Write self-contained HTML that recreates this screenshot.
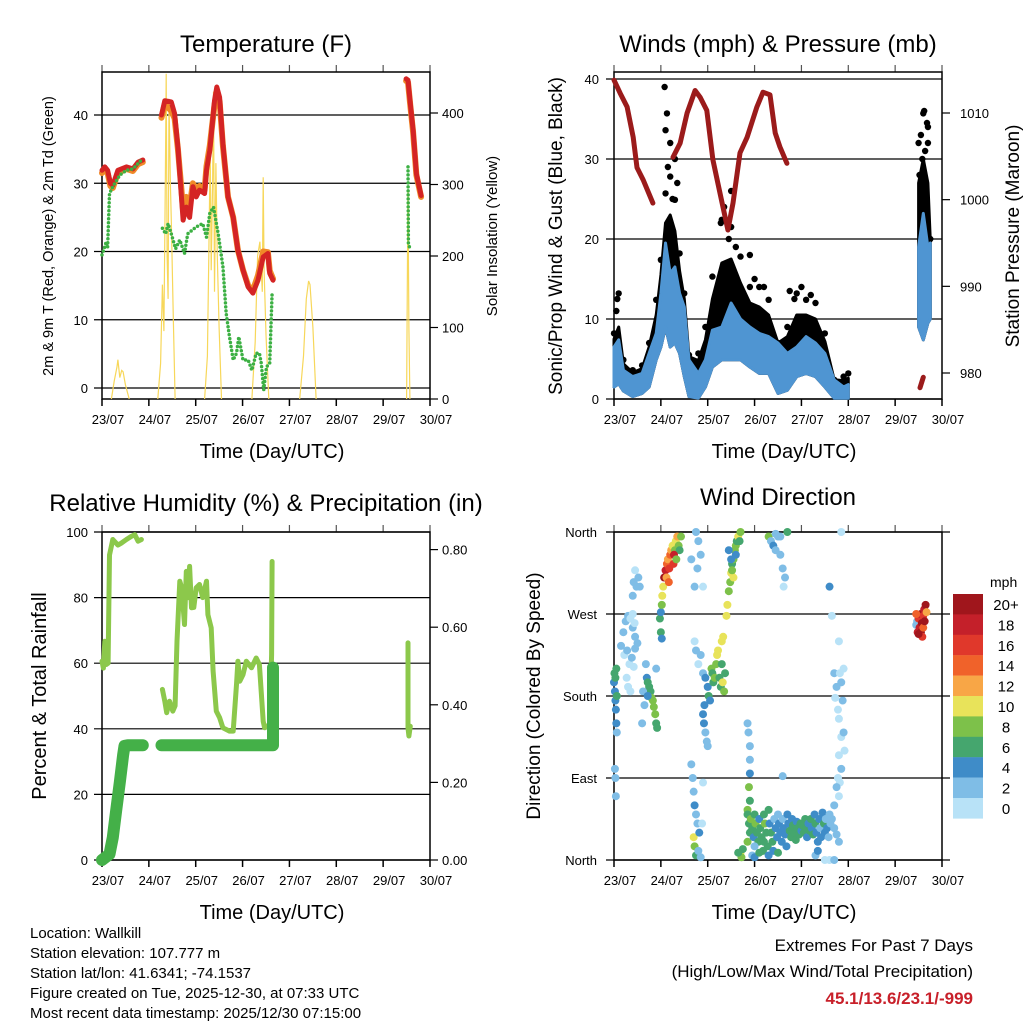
<!DOCTYPE html>
<html><head><meta charset="utf-8"><style>
html,body{margin:0;padding:0;background:#fff;}
svg{display:block;font-family:"Liberation Sans",sans-serif;}
</style></head><body>
<svg id="root" width="1024" height="1024" viewBox="0 0 1024 1024" xmlns="http://www.w3.org/2000/svg">
<rect x="0" y="0" width="1024" height="1024" fill="#fff"/>
<g id="g1"></g>
<g id="g2"></g>
<g id="g3"></g>
<g id="g4"></g>
<g font-size="15" fill="#000">
<text x="30" y="938">Location: Wallkill</text>
<text x="30" y="958">Station elevation: 107.777 m</text>
<text x="30" y="978">Station lat/lon: 41.6341; -74.1537</text>
<text x="30" y="998">Figure created on Tue, 2025-12-30, at 07:33 UTC</text>
<text x="30" y="1018">Most recent data timestamp: 2025/12/30 07:15:00</text>
</g>
<g text-anchor="end">
<text x="973" y="951" font-size="17">Extremes For Past 7 Days</text>
<text x="973" y="977" font-size="17">(High/Low/Max Wind/Total Precipitation)</text>
<text x="973" y="1004" font-size="17" font-weight="bold" fill="#c8202a">45.1/13.6/23.1/-999</text>
</g>
</svg>
<script>
// ---------- data ----------
const dayLabels = ["23/07","24/07","25/07","26/07","27/07","28/07","29/07","30/07"];
const tempTicks = [0,10,20,30,40];
const solarTicks = [0,100,200,300,400];
const windTicks = [0,10,20,30,40];
const pressTicks = [980,990,1000,1010];
const rhTicks = [0,20,40,60,80,100];
const precipTicks = ["0.00","0.20","0.40","0.60","0.80"];
const dirTicks = ["North","East","South","West","North"];
const speedBins = ["0","2","4","6","8","10","12","14","16","18","20+"];

const tempRed = [
 [[0,31.9],[0.06,32.4],[0.12,31.9],[0.18,30],[0.23,29.7],[0.34,31.9],[0.52,32.4],[0.66,32.1],[0.77,33.1],[0.87,33.4]],
 [[1.27,40],[1.34,42.1],[1.48,41.9],[1.55,40.2],[1.62,35.3],[1.69,28.5],[1.73,24.6],[1.8,26.5],[1.87,25],[1.94,29.5],[2.01,28],[2.08,29],[2.19,28.5],[2.23,31.9],[2.3,34.8],[2.4,42.1],[2.45,44.1],[2.51,42.6],[2.58,35.8],[2.69,28],[2.8,25],[2.9,20.2],[3.01,17.3],[3.12,14.8],[3.22,13.9],[3.33,15.8],[3.44,19.2],[3.54,19.7],[3.58,16.8],[3.65,15.8]],
 [[6.49,45.3],[6.53,45.1],[6.58,41.7],[6.64,37.8],[6.71,31.4],[6.81,28.2]]
];
const tempOrange = [
 [[0,31.5],[0.06,32],[0.12,31.5],[0.18,29.6],[0.23,29.3],[0.34,31.5],[0.52,32.1],[0.66,31.8],[0.77,32.8],[0.87,33.1]],
 [[1.27,39.6],[1.34,41.6],[1.48,40.6],[1.55,39.5],[1.62,35],[1.69,29.5],[1.73,26],[1.8,28],[1.87,26.5],[1.94,30],[2.01,29],[2.08,29.6],[2.19,29],[2.23,32.5],[2.3,35.5],[2.4,41.5],[2.45,43.2],[2.51,42],[2.58,35.5],[2.69,28],[2.8,25],[2.9,20.2],[3.01,17.3],[3.12,15],[3.22,14.3],[3.33,16.5],[3.44,20],[3.54,19.9],[3.58,17.2],[3.65,16]],
 [[6.49,45],[6.53,44.8],[6.58,41.4],[6.64,37.5],[6.71,31.2],[6.81,28]]
];
const dewGreen = [
 [[0,19.5],[0.05,20.5],[0.09,21.4],[0.12,20.6],[0.16,28.5],[0.23,29.5],[0.38,31.2],[0.52,31.9],[0.66,32.1],[0.77,32.9],[0.84,33.4]],
 [[1.29,23.4],[1.36,22.6],[1.41,24.1],[1.48,22.6],[1.57,20.4],[1.66,21.7],[1.76,19.7],[1.83,22.6],[2.01,23.6],[2.15,24.1],[2.23,22.1],[2.3,25.6],[2.38,26.5],[2.48,22.6],[2.58,17.8],[2.65,10.9],[2.72,7.5],[2.8,4.1],[2.87,5.1],[2.92,7.5],[3.01,4.1],[3.12,4.1],[3.2,2.6],[3.29,5.1],[3.36,5.1],[3.4,3.6],[3.45,-0.3],[3.51,3.1],[3.58,3.6],[3.63,13.9]],
 [[6.53,32.4],[6.54,21.2],[6.58,20.2]]
];
const solar = [
 [[0.2,0],[0.26,25],[0.29,35],[0.32,45],[0.34,55],[0.38,30],[0.42,40],[0.45,38],[0.5,20],[0.58,0]],
 [[1.19,0],[1.25,50],[1.29,160],[1.32,95],[1.35,300],[1.37,455],[1.39,200],[1.41,140],[1.43,420],[1.46,300],[1.48,250],[1.52,120],[1.56,0]],
 [[2.19,0],[2.25,60],[2.28,200],[2.31,350],[2.33,180],[2.36,300],[2.38,430],[2.4,150],[2.43,330],[2.46,200],[2.5,100],[2.55,0]],
 [[3.2,0],[3.27,80],[3.32,200],[3.37,220],[3.42,150],[3.44,310],[3.46,180],[3.5,90],[3.56,0]],
 [[4.22,0],[4.3,60],[4.36,140],[4.41,165],[4.44,160],[4.5,100],[4.57,0]],
 [[6.5,0],[6.52,200],[6.53,290],[6.55,100],[6.57,0]]
];

const pressure = [
 [[0,1013.8],[0.13,1012.3],[0.28,1010.7],[0.41,1007.2],[0.49,1003.7],[0.62,1002.3],[0.83,999.6]],
 [[1.26,1004.9],[1.41,1006.5],[1.56,1010],[1.73,1012.6],[1.84,1011.8],[1.98,1010.3],[2.11,1004.6],[2.26,1000.8],[2.43,996.5],[2.54,999.6],[2.69,1005.4],[2.84,1007.2],[3.05,1010.7],[3.18,1012.4],[3.33,1012.1],[3.44,1007.7],[3.54,1006.1],[3.69,1004.2]],
 [[6.53,978.3],[6.6,979.5]]
];
const windTimes = [[0,0.1,0.2,0.4,0.6,0.75,0.9,1.0,1.1,1.2,1.3,1.4,1.5,1.6,1.8,1.95,2.1,2.3,2.5,2.7,2.9,3.1,3.3,3.5,3.7,3.9,4.1,4.3,4.5,4.7,4.9,5.0],[6.5,6.6,6.7,6.75]];
const windHi = [[6.5,7.4,3.6,2.8,3.2,5.7,8.2,13.2,19.5,15.7,16.5,13.2,11.5,4.9,3.2,4.9,8.6,9,12,10,9,8.2,7.8,7,5.7,6.5,7.8,7,5.7,2.4,1.5,1.8],[19,23.2,19,19.5]];
const windLo = [[1.5,1.9,1,0.3,0.7,1.5,4.9,6.5,9,6.5,7,5.7,2.8,0.3,0.1,1.5,4,4.9,4.9,4.9,4,3.2,3.2,0.7,1.1,2.8,3.2,2.8,1.5,0.1,0.1,0.1],[9,7.4,9.5,10]];
const gustBody = [[7.5,9,4.4,3.3,3.8,6.5,10.5,15.5,22,23,21,16,12.5,5.3,4.8,7.4,12.5,17,17.5,14.5,12,11.5,10.5,7,7.8,10.5,10.5,10,7.2,2.4,2.3,2.6],[27,30,27,19.8]];
const gustHi = [[8.2,13.2,4.9,3.6,4.2,7,12.4,17.4,25.7,27.8,24.9,18.2,13.2,5.5,5.7,9,15.3,22.4,21.5,17.8,14,14,12.4,7,9,13.2,12.4,12,8.2,2.4,2.8,3.2],[32,35.7,34,20]];
const gustOutT = [0.07,1.08,1.1,1.13,1.2,1.3,1.35,2.5,2.28,2.9,3.75,6.55,6.62,6.68,6.7,6.58,1.15,1.25,2.35,2.45,2.6,3.0,3.2,3.85,4.0,4.2,0.05,6.52,6.64];
const gustOutV = [12.5,39,33.6,35.7,32,30,27,26,22,18,13.5,33,36,34.5,32,30,29,25,24,20,19,15,14,12.5,14,13,11,28,31];

const rhSeries = [
 [[0,60.6],[0.03,58.5],[0.06,66.7],[0.09,59.6],[0.13,60],[0.16,93],[0.23,97.7],[0.34,96],[0.41,96.6],[0.52,97.7],[0.63,98.7],[0.7,99.2],[0.77,97.2],[0.84,97.7]],
 [[1.29,52],[1.34,48.4],[1.38,44.9],[1.44,48.4],[1.51,45.4],[1.56,47],[1.6,66.7],[1.66,85],[1.7,83],[1.76,71.8],[1.8,88],[1.84,80],[1.87,89.5],[1.91,76.9],[1.96,77],[2.01,83],[2.08,84],[2.15,80],[2.23,85],[2.26,74.8],[2.33,70.8],[2.37,57.6],[2.44,45.4],[2.51,43.4],[2.58,40.3],[2.72,39.3],[2.8,39.3],[2.87,53.5],[2.9,60.6],[2.94,54.5],[3.01,56.5],[3.08,60.6],[3.19,58.6],[3.29,61.6],[3.36,59.6],[3.44,42.3],[3.47,40.3],[3.58,41.3],[3.62,62.6],[3.63,91]],
 [[6.53,66.2],[6.53,40.3],[6.55,37.8],[6.58,40.8]]
];
const precipSeries = [
 [[0,0],[0.16,0.015],[0.23,0.058],[0.3,0.126],[0.38,0.2],[0.45,0.27],[0.48,0.294],[0.55,0.296],[0.87,0.296]],
 [[1.27,0.296],[3.65,0.296],[3.65,0.496]]
];

const dirTimes = [0,0.01,0.02,0.03,0.04,0.05,0.06,0.03,0.05,0.02,0.03,0.04,0.06,0.15,0.2,0.25,0.3,0.35,0.4,0.45,0.5,0.22,0.28,0.33,0.38,0.42,0.45,0.4,0.42,0.45,0.48,0.52,0.55,0.27,0.3,0.35,0.4,0.44,0.7,0.72,0.75,0.78,0.8,0.83,0.85,0.88,0.9,0.92,0.62,0.65,0.6,0.68,0.72,0.9,0.98,1.0,1.02,1.03,1.05,1.07,1.1,1.13,1.15,1.18,1.2,1.22,1.25,1.27,1.3,1.32,1.35,1.38,1.4,1.43,1.12,1.17,1.28,1.33,1.0,1.02,1.65,1.72,1.78,1.9,1.75,1.8,1.85,1.72,1.75,1.8,1.85,1.9,1.95,2.0,2.02,2.05,2.08,2.1,2.12,2.15,2.18,2.2,2.22,2.25,2.28,2.3,2.32,2.35,2.37,2.3,2.33,1.9,1.92,1.95,1.98,2.0,1.93,1.65,1.68,1.7,1.72,1.75,1.78,1.7,1.72,1.75,1.8,1.85,1.82,1.88,1.9,2.4,2.42,2.45,2.48,2.5,2.52,2.55,2.58,2.6,2.62,2.65,2.7,2.68,2.55,2.5,2.6,2.45,2.52,2.85,2.87,2.9,2.9,2.9,2.88,2.85,2.9,2.85,2.7,2.72,2.75,2.65,2.85,2.88,2.9,2.92,2.95,2.98,3.0,3.02,3.05,3.08,3.1,3.12,3.15,3.18,3.2,3.22,3.25,3.28,3.3,3.32,3.35,3.38,3.4,3.42,3.45,3.48,3.5,3.52,3.55,3.58,3.6,3.62,3.65,3.68,3.7,3.72,3.75,3.78,3.8,3.82,3.85,3.88,3.9,3.92,3.95,3.98,4.0,4.02,4.05,4.08,4.1,4.12,4.15,4.18,4.2,4.22,4.25,4.28,4.3,4.32,4.35,4.38,4.4,4.42,4.45,4.48,4.5,4.52,4.55,4.58,4.6,4.62,2.95,3.0,3.1,3.3,3.5,4.3,4.35,3.0,3.2,3.3,3.35,3.4,3.45,3.5,3.55,3.6,3.62,3.65,3.55,3.45,3.7,3.6,4.6,4.65,4.8,4.7,4.75,4.72,4.78,4.8,4.85,4.8,4.85,4.78,4.82,4.75,4.8,4.7,4.65,4.7,4.75,4.8,4.82,4.85,4.9,4.88,4.9,4.92,4.85,4.5,4.6,4.7,6.45,6.47,6.5,6.52,6.55,6.57,6.6,6.62,6.65,6.48,6.55,6.6,6.58,6.5,6.63,6.67,6.45];
const dirValues = [195,205,185,175,165,150,140,200,210,100,90,70,180,235,250,262,268,265,255,245,238,225,230,215,222,212,232,290,305,318,300,310,300,200,190,185,270,260,200,195,190,185,178,175,168,160,150,145,185,170,150,215,180,210,265,272,280,290,300,310,318,325,330,320,335,340,345,325,340,350,355,345,340,355,310,305,335,330,250,243,330,300,320,300,360,350,335,240,230,215,225,205,200,190,180,175,210,205,195,200,215,225,230,200,190,215,195,185,205,240,245,160,150,140,130,125,170,105,90,75,60,50,40,25,15,5,10,3,30,40,85,268,280,295,305,315,325,330,340,345,350,355,360,350,310,330,335,340,318,150,140,125,110,95,80,55,65,20,8,3,12,8,50,40,30,45,35,25,50,40,30,20,45,35,25,10,50,40,30,15,55,40,30,20,10,45,35,25,50,40,30,20,45,35,28,15,50,40,32,25,45,38,30,22,42,35,28,40,32,38,30,45,35,25,40,32,45,35,28,50,40,30,20,45,35,25,52,40,30,45,35,25,50,40,5,3,8,5,8,5,10,15,20,355,350,345,340,355,335,320,300,310,355,358,360,92,300,268,240,205,190,178,165,155,135,115,100,90,85,80,70,60,45,35,28,20,205,195,210,175,140,120,360,0,0,0,258,262,265,255,270,260,268,275,280,250,250,255,245,248,262,272,270];
const dirSpeeds = [5,7,4,5,4,4,3,7,6,3,2,2,7,2,2,2,2,1,2,2,2,1,2,1,2,1,2,2,2,1,2,2,2,1,1,1,1,1,4,6,6,7,8,9,8,8,7,7,3,2,2,2,4,2,6,5,8,10,10,20,18,14,12,16,14,12,10,16,8,10,12,8,6,8,12,14,18,8,6,4,2,3,2,1,2,2,2,1,2,1,2,2,4,5,6,4,8,6,7,8,8,10,10,7,6,6,10,8,7,10,11,4,4,3,2,2,5,2,2,2,4,3,2,10,8,6,2,2,4,1,1,10,10,9,8,10,7,8,9,8,7,10,9,6,10,5,4,4,8,2,2,2,2,4,8,8,6,8,10,8,6,6,6,6,6,8,6,4,6,8,6,6,4,6,6,6,6,8,6,6,6,4,6,6,4,2,4,4,2,4,4,4,2,4,4,4,4,4,6,6,4,6,6,6,4,6,6,6,4,6,6,6,6,4,4,6,6,4,6,4,6,4,4,4,2,4,4,6,4,2,4,2,2,2,2,4,6,4,6,2,4,2,6,8,3,4,2,2,2,2,1,2,2,2,6,2,4,1,1,3,2,1,1,1,1,1,2,1,1,2,1,2,2,2,3,2,1,2,1,2,2,1,1,1,1,2,2,2,16,18,20,20,16,18,20,18,20,14,16,22,20,12,14,18,15];

// ---------- helpers ----------
const NS = "http://www.w3.org/2000/svg";
function mk(parent, tag, attrs, text) {
  const e = document.createElementNS(NS, tag);
  for (const k in attrs) e.setAttribute(k, attrs[k]);
  if (text !== undefined) e.textContent = text;
  parent.appendChild(e);
  return e;
}
function xScale(x0, x1) { return t => x0 + (x1 - x0) * t / 7; }
function linScale(v0, y0, v1, y1) { return v => y0 + (v - v0) * (y1 - y0) / (v1 - v0); }
function pathOf(pts, xs, ys) { return pts.map((p, i) => (i ? "L" : "M") + xs(p[0]).toFixed(1) + " " + ys(p[1]).toFixed(1)).join(" "); }
function speedColor(s) {
  const cols = ["#b8e2f7","#7fbde6","#3f8cc8","#45a66e","#7dc14a","#e8e35a","#f8a646","#f0622a","#e0382b","#c4202a","#a0161c"];
  return cols[Math.max(0, Math.min(10, Math.floor(s / 2)))];
}

function frame(g, x0, x1, yt, yb, name) {
  const xs = xScale(x0, x1);
  for (let k = 0; k < dayLabels.length; k++) {
    const x = xs(k);
    let tk = mk(g, "line", {x1: x, x2: x, y1: yb, y2: yb + 7, stroke: "#000", "stroke-width": 1.5});
    
    
    let tt = mk(g, "line", {x1: x, x2: x, y1: yt - 7, y2: yt, stroke: "#555", "stroke-width": 1.2});
    
    
    let lb = mk(g, "text", {x: x + 6, y: yb + 25, "font-size": 13, "text-anchor": "middle"}, dayLabels[k]);
    
    
  }
  let xt = mk(g, "text", {x: (x0 + x1) / 2 + 6, y: yb + 59, "font-size": 20, "text-anchor": "middle"}, "Time (Day/UTC)");
  
  
  let bx = mk(g, "rect", {x: x0, y: yt, width: x1 - x0, height: yb - yt, fill: "none", stroke: "#000", "stroke-width": 1.5});
  
  
  return xs;
}
function hgrid(g, x0, x1, y, label, lx) {
  let l = mk(g, "line", {x1: x0 - 8, x2: x1, y1: y, y2: y, stroke: "#000", "stroke-width": 1.2});
  
  
  let t = mk(g, "text", {x: lx, y: y + 5, "font-size": 13, "text-anchor": "end"}, label);
  
  
}
function rtick(g, x1, y, label, lx) {
  let l = mk(g, "line", {x1: x1, x2: x1 + 8, y1: y, y2: y, stroke: "#000", "stroke-width": 1.2});
  
  
  let t = mk(g, "text", {x: lx, y: y + 5, "font-size": 13}, label);
  
  
}
function title(g, x, y, s, name) {
  let t = mk(g, "text", {x: x, y: y, "font-size": 24, "text-anchor": "middle"}, s);
  
  
}
function vtitle(g, x, y, s, size, name) {
  let t = mk(g, "text", {x: 0, y: 0, "font-size": size, "text-anchor": "middle", transform: `translate(${x},${y}) rotate(-90)`}, s);
  
  
}

// ---------- panel 1: temperature ----------
(function () {
  const g = document.getElementById("g1");
  const x0 = 102, x1 = 430, yt = 72, yb = 399;
  const yT = linScale(0, 388, 40, 115);
  const yS = linScale(0, 399, 400, 113);
  title(g, 266, 52, "Temperature (F)", "temperature-title");
  vtitle(g, 53, 236, "2m & 9m T (Red, Orange) & 2m Td (Green)", 14.5, "temperature-y-title");
  vtitle(g, 497, 236, "Solar Insolation (Yellow)", 15, "solar-y-title");
  tempTicks.forEach(v => hgrid(g, x0, x1, yT(v), String(v), 88));
  solarTicks.forEach(v => rtick(g, x1, yS(v), String(v), 442));
  const xs = frame(g, x0, x1, yt, yb, "temperature");
  solar.forEach(seg => {
    let p = mk(g, "path", {d: pathOf(seg, xs, yS), fill: "none", stroke: "#f7d75a", "stroke-width": 1.2});
    
    
  });
  tempOrange.forEach(seg => {
    let p = mk(g, "path", {d: pathOf(seg, xs, yT), fill: "none", stroke: "#f08a28", "stroke-width": 6, "stroke-linejoin": "round", "stroke-linecap": "round"});
    
    
  });
  tempRed.forEach(seg => {
    let p = mk(g, "path", {d: pathOf(seg, xs, yT), fill: "none", stroke: "#d42424", "stroke-width": 5, "stroke-linejoin": "round", "stroke-linecap": "round"});
    
    
  });
  dewGreen.forEach(seg => {
    let p = mk(g, "path", {d: pathOf(seg, xs, yT), fill: "none", stroke: "#3cb043", "stroke-width": 3.5, "stroke-dasharray": "0 4", "stroke-linecap": "round"});
    
    
  });
})();

// ---------- panel 2: winds ----------
(function () {
  const g = document.getElementById("g2");
  const x0 = 614, x1 = 942, yt = 72, yb = 399;
  const yW = linScale(0, 399, 40, 79);
  const yP = linScale(980, 373, 1010, 113);
  title(g, 778, 52, "Winds (mph) & Pressure (mb)", "winds-title");
  vtitle(g, 562, 236, "Sonic/Prop Wind & Gust (Blue, Black)", 19, "wind-y-title");
  vtitle(g, 1019, 236, "Station Pressure (Maroon)", 19, "pressure-y-title");
  windTicks.forEach(v => hgrid(g, x0, x1, yW(v), String(v), 599));
  pressTicks.forEach(v => rtick(g, x1, yP(v), String(v), 960));
  const xs = frame(g, x0, x1, yt, yb, "winds");
  windTimes.forEach((ts, si) => {
    const top = ts.map((t, i) => [t, gustBody[si][i]]);
    const bot = ts.map((t, i) => [t, windLo[si][i]]).reverse();
    let a = mk(g, "path", {d: pathOf(top.concat(bot), xs, yW) + " Z", fill: "#000", stroke: "#000", "stroke-width": 3, "stroke-linejoin": "round"});
    
    
    ts.forEach((t, i) => {
      let c = mk(g, "circle", {cx: xs(t), cy: yW(gustHi[si][i]), r: 3.2, fill: "#000"});
      
      
    });
  });
  gustOutT.forEach((t, i) => {
    let c = mk(g, "circle", {cx: xs(t), cy: yW(gustOutV[i]), r: 3.2, fill: "#000"});
    
    
  });
  windTimes.forEach((ts, si) => {
    const top = ts.map((t, i) => [t, windHi[si][i]]);
    const bot = ts.map((t, i) => [t, windLo[si][i]]).reverse();
    let a = mk(g, "path", {d: pathOf(top.concat(bot), xs, yW) + " Z", fill: "#4f95d2", stroke: "#4f95d2", "stroke-width": 3, "stroke-linejoin": "round"});
    
    
  });
  pressure.forEach(seg => {
    let p = mk(g, "path", {d: pathOf(seg, xs, yP), fill: "none", stroke: "#9b1b1b", "stroke-width": 5, "stroke-linejoin": "round", "stroke-linecap": "round"});
    
    
  });
})();

// ---------- panel 3: humidity ----------
(function () {
  const g = document.getElementById("g3");
  const x0 = 102, x1 = 430, yt = 532, yb = 860;
  const yR = linScale(0, 860, 100, 532);
  const yI = linScale(0, 860, 0.8, 549.6);
  title(g, 266, 511, "Relative Humidity (%) & Precipitation (in)", "humidity-title");
  vtitle(g, 46, 696, "Percent & Total Rainfall", 20, "humidity-y-title");
  rhTicks.forEach(v => hgrid(g, x0, x1, yR(v), String(v), 88));
  precipTicks.forEach(v => rtick(g, x1, yI(parseFloat(v)), v, 442));
  const xs = frame(g, x0, x1, yt, yb, "humidity");
  rhSeries.forEach(seg => {
    let p = mk(g, "path", {d: pathOf(seg, xs, yR), fill: "none", stroke: "#8cc84b", "stroke-width": 5, "stroke-linejoin": "round", "stroke-linecap": "round"});
    
    
  });
  precipSeries.forEach(seg => {
    let p = mk(g, "path", {d: pathOf(seg, xs, yI), fill: "none", stroke: "#44b048", "stroke-width": 12, "stroke-linejoin": "round", "stroke-linecap": "round"});
    
    
  });
})();

// ---------- panel 4: wind direction ----------
(function () {
  const g = document.getElementById("g4");
  const x0 = 614, x1 = 942, yt = 532, yb = 860;
  const yD = linScale(0, 860, 360, 532);
  title(g, 778, 505, "Wind Direction", "wind-direction-title");
  vtitle(g, 540, 696, "Direction (Colored By Speed)", 19, "direction-y-title");
  dirTicks.forEach((lab, i) => hgrid(g, x0, x1 + 8, yD(i * 90), lab, 597));
  const xs = frame(g, x0, x1, yt, yb, "wind-direction");
  dirTimes.forEach((t, i) => {
    let c = mk(g, "circle", {cx: xs(t), cy: yD(dirValues[i]), r: 4, fill: speedColor(dirSpeeds[i])});
    
    
  });
  const cb = mk(g, "g", {});
  
  
  let u = mk(cb, "text", {x: 990, y: 587, "font-size": 14}, "mph");
  
  
  for (let k = 0; k < speedBins.length; k++) {
    const idx = speedBins.length - 1 - k;
    const y = 594 + k * 20.4;
    let r = mk(cb, "rect", {x: 953, y: y, width: 30, height: 20.6, fill: speedColor(idx * 2)});
    
    
    let t = mk(cb, "text", {x: 1006, y: y + 16, "font-size": 15, "text-anchor": "middle"}, speedBins[idx]);
    
    
  }
})();
</script>
</body></html>
